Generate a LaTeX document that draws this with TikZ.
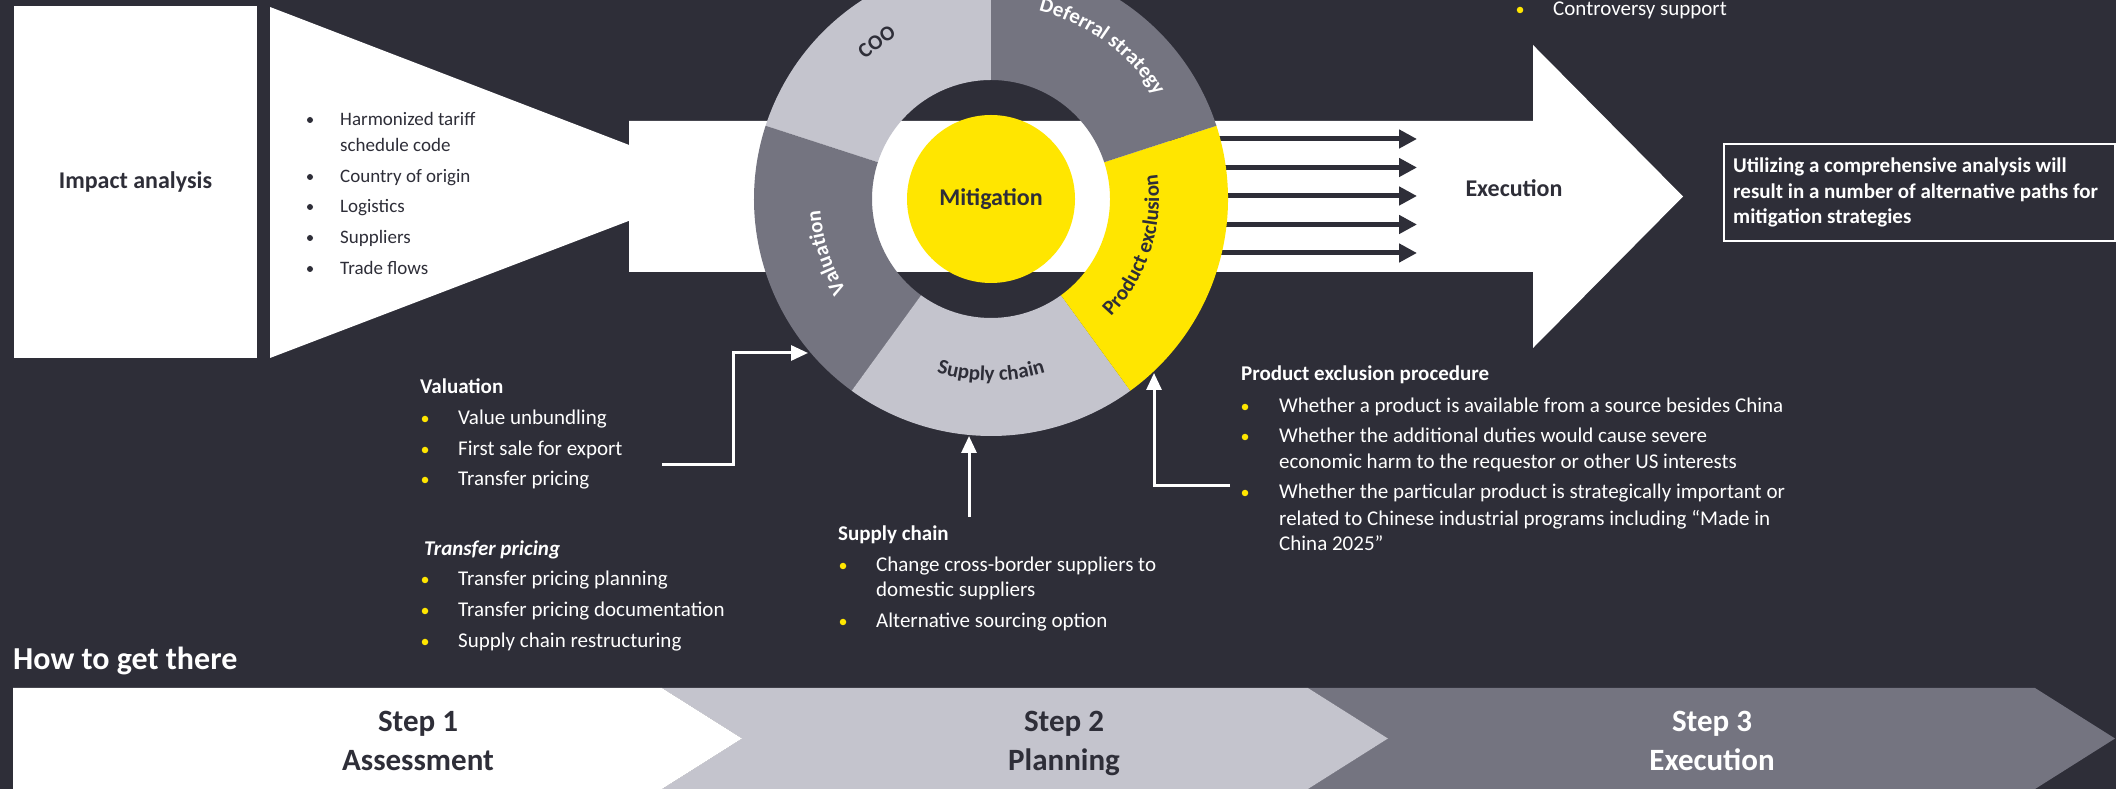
\documentclass[tikz,border=0pt]{standalone}
\usepackage{fontspec}
\setmainfont{Carlito}
\usepackage{tikz}
\usetikzlibrary{arrows.meta, decorations.text}

\definecolor{eydark}{HTML}{2E2E38}
\definecolor{eyyellow}{HTML}{FFE600}
\definecolor{eygrey}{HTML}{747480}
\definecolor{eylight}{HTML}{C4C4CD}

\newcommand{\listfont}{\fontsize{21}{25.5}\selectfont}
\newcommand{\funnelfont}{\fontsize{19}{25.5}\selectfont}
\newcommand{\bigfont}{\fontsize{24}{29}\selectfont\bfseries}
\newcommand{\stepfont}{\fontsize{31}{38}\selectfont\bfseries}
\newcommand{\ringfont}{\fontsize{21}{25.5}\selectfont\bfseries}

\begin{document}
\begin{tikzpicture}[x=1pt, y=1pt,
    listitem/.style={anchor=base west, inner sep=0pt, text=white, font=\listfont},
    itemhead/.style={listitem, font=\listfont\bfseries},
    bulletdot/.style={circle, fill=eyyellow, inner sep=0pt, minimum size=6.5pt},
    steptext/.style={anchor=base, inner sep=0pt, font=\stepfont},
    feed/.style={draw=white, line width=3pt, -{Triangle[length=17pt, width=15pt]}},
    flow/.style={draw=eydark, line width=5pt, -{Triangle[length=18pt, width=18pt]}},
    ringtext/.style={decorate, decoration={text along path, text align=center}}]

    % Background
    \fill[eydark] (0,0) rectangle (2116,789);
    \useasboundingbox (0,0) rectangle (2116,789);
    \clip (0,0) rectangle (2116,789);

    % Draw the impact analysis box and the funnel
    \node[fill=white, minimum width=243pt, minimum height=352pt, inner sep=0pt, text=eydark, font=\bigfont] (impact) at (135.5,607) {Impact analysis};
    \fill[white] (270,782) -- (728,606) -- (270,431) -- cycle;

    % Draw the band ending in the execution arrow
    \fill[white] (629,668) -- (1533,668) -- (1533,744) -- (1683,592.5) -- (1533,441) -- (1533,517) -- (629,517) -- cycle;
    \node[text=eydark, font=\bigfont] (execution) at (1514,601) {Execution};

    % Funnel list
    \foreach \y/\txt [count=\i] in {663/Harmonized tariff, 606/Country of origin, 576/Logistics, 545/Suppliers, 514/Trade flows} {
        \node[bulletdot, fill=eydark, minimum size=6pt] (fb\i) at (310,\y+6) {};
        \node[listitem, text=eydark, font=\funnelfont] (ft\i) at (340,\y) {\txt};
    }
    \node[listitem, text=eydark, font=\funnelfont] (ft1b) at (340,637) {schedule code};

    % Arrows from the ring into the execution arrow
    \foreach \dy [count=\i] in {57,28.5,0,-28.5,-57} {
        \coordinate (out\i) at (1150,593+\dy);
        \coordinate (in\i) at (1417,593+\dy);
        \draw[flow] (out\i) -- (in\i);
    }

    % Ring of mitigation strategies
    \coordinate (ring) at (991,590);
    \foreach \a/\col in {90/eylight, 162/eygrey, 234/eylight, 306/eyyellow, 18/eygrey}
        \fill[\col] ([shift={(\a:237)}]ring) arc[start angle=\a, end angle=\a+72, radius=237]
            -- ([shift={(\a+72:119)}]ring) arc[start angle=\a+72, end angle=\a, radius=119] -- cycle;
    \node[circle, fill=eyyellow, minimum size=168pt, inner sep=0pt, text=eydark, font=\bigfont] (mitigation) at (ring) {Mitigation};

    % Segment labels
    \path[ringtext, decoration={text={|\ringfont\color{eydark}|COO}}]
        ([shift={(162:188)}]ring) arc[start angle=162, end angle=90, radius=188];
    \path[ringtext, decoration={text={|\ringfont\color{white}|Deferral strategy}}]
        ([shift={(90:194)}]ring) arc[start angle=90, end angle=18, radius=194];
    \path[ringtext, decoration={text={|\ringfont\color{white}|Valuation}}]
        ([shift={(234:171)}]ring) arc[start angle=234, end angle=162, radius=171];
    \path[ringtext, decoration={text={|\ringfont\color{eydark}|Supply chain}}]
        ([shift={(234:182)}]ring) arc[start angle=234, end angle=306, radius=182];
    \path[ringtext, decoration={text={|\ringfont\color{eydark}|Product exclusion}}]
        ([shift={(306:168)}]ring) arc[start angle=306, end angle=378, radius=168];

    % Connectors from the notes to the ring
    \coordinate (valFrom) at (662,324);
    \coordinate (valTo) at (808,436);
    \draw[feed] (valFrom) -- ++(71,0) |- (valTo);
    \coordinate (supFrom) at (969,272);
    \coordinate (supTo) at (969,353);
    \draw[feed] (supFrom) -- (supTo);
    \coordinate (prodFrom) at (1230,303);
    \coordinate (prodTo) at (1154,416);
    \draw[feed] (prodFrom) -| (prodTo);

    % Valuation notes
    \node[itemhead] (valHead) at (420,395) {Valuation};
    \foreach \y/\txt [count=\i] in {364/Value unbundling, 333/First sale for export, 303/Transfer pricing} {
        \node[bulletdot] (vb\i) at (425,\y+6) {};
        \node[listitem] (vt\i) at (458,\y) {\txt};
    }
    \node[itemhead, font=\listfont\bfseries\itshape] (tpHead) at (424,233) {Transfer pricing};
    \foreach \y/\txt [count=\i] in {203/Transfer pricing planning, 172/Transfer pricing documentation, 141/Supply chain restructuring} {
        \node[bulletdot] (tb\i) at (425,\y+6) {};
        \node[listitem] (tt\i) at (458,\y) {\txt};
    }

    % Supply chain notes
    \node[itemhead] (supHead) at (838,248) {Supply chain};
    \foreach \y/\txt [count=\i] in {217/Change cross-border suppliers to, 161/Alternative sourcing option} {
        \node[bulletdot] (sb\i) at (843,\y+6) {};
        \node[listitem] (st\i) at (876,\y) {\txt};
    }
    \node[listitem] (st1b) at (876,192) {domestic suppliers};

    % Product exclusion notes
    \node[itemhead] (prodHead) at (1241,408) {Product exclusion procedure};
    \foreach \y/\txt [count=\i] in {376/Whether a product is available from a source besides China, 346/Whether the additional duties would cause severe, 290/Whether the particular product is strategically important or} {
        \node[bulletdot] (pb\i) at (1245,\y+6) {};
        \node[listitem] (pt\i) at (1279,\y) {\txt};
    }
    \node[listitem] (pt2b) at (1279,320) {economic harm to the requestor or other US interests};
    \node[listitem] (pt3b) at (1279,263) {related to Chinese industrial programs including “Made in};
    \node[listitem] (pt3c) at (1279,238) {China 2025”};

    % Controversy support
    \node[bulletdot] (cb) at (1520,779) {};
    \node[listitem] (ct) at (1553,773) {Controversy support};

    % Summary box
    \node[draw=white, line width=2pt, minimum width=391pt, minimum height=97pt, anchor=north west, inner sep=0pt] (summary) at (1723,646) {};
    \node[anchor=north west, align=left, inner sep=0pt, text=white, font=\listfont\bfseries] (summaryText) at (1733,631)
        {Utilizing a comprehensive analysis will\\result in a number of alternative paths for\\mitigation strategies};

    % How to get there
    \node[anchor=base west, inner sep=0pt, text=white, font=\fontsize{32}{38}\selectfont\bfseries] (route) at (13,119) {How to get there};

    % Step chevrons
    \fill[eygrey] (1308,101) -- (2035,101) -- (2115,50.5) -- (2035,0) -- (1308,0) -- (1388,50.5) -- cycle;
    \fill[eylight] (662,101) -- (1308,101) -- (1388,50.5) -- (1308,0) -- (662,0) -- (742,50.5) -- cycle;
    \fill[white] (13,101) -- (662,101) -- (742,50.5) -- (662,0) -- (13,0) -- cycle;
    \foreach \x/\lbl/\col [count=\i] in {418/Assessment/eydark, 1064/Planning/eydark, 1712/Execution/white} {
        \node[steptext, text=\col] (step\i) at (\x,57) {Step \i};
        \node[steptext, text=\col] (phase\i) at (\x,18) {\lbl};
    }
\end{tikzpicture}
\end{document}
